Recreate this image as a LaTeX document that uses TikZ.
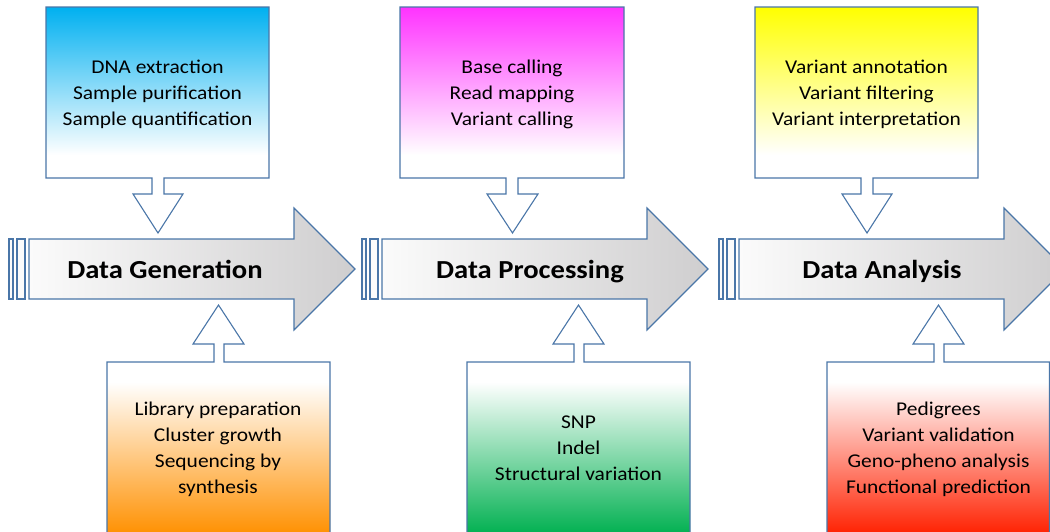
\documentclass[tikz,border=0pt]{standalone}
\usepackage{fontspec}
\setmainfont{Carlito}
\newfontfamily\bodyfont[FakeStretch=1.1]{Carlito}
\definecolor{olc}{HTML}{4A76A8}
\definecolor{cyanc}{HTML}{00B0F0}
\definecolor{magc}{HTML}{FF33FF}
\definecolor{yelc}{HTML}{FFFF00}
\definecolor{orac}{HTML}{FF9000}
\definecolor{grnc}{HTML}{00B050}
\definecolor{redc}{HTML}{FF2000}
\definecolor{arrR}{HTML}{CFCECF}
\definecolor{arrL}{HTML}{FBFBFB}
\begin{document}
\begin{tikzpicture}[x=1pt,y=-1pt,line join=miter]
\tikzset{
  outl/.style={draw=olc, line width=1.1pt},
  boxtext/.style={align=center, font=\bodyfont\fontsize{19.5}{26}\selectfont, text=black, inner sep=0pt},
  titletext/.style={anchor=base, font=\bodyfont\bfseries\fontsize{26}{30}\selectfont, text=black, inner sep=0pt},
  bigarrow/.style={outl, left color=arrL, right color=arrR},
  stripe/.style={outl, fill=arrL},
}
\useasboundingbox (0,0) rectangle (1050,531);

% ---------- top callouts ----------
\fill[white] (46,7) -- (269,7) -- (269,178) -- (164,178) -- (164,194) -- (183,194) -- (158,233) -- (133,194) -- (152,194) -- (152,178) -- (46,178) -- cycle;
\shade[top color=cyanc, bottom color=white] (46,7) rectangle (269,155);
\draw[outl] (46,7) -- (269,7) -- (269,178) -- (164,178) -- (164,194) -- (183,194) -- (158,233) -- (133,194) -- (152,194) -- (152,178) -- (46,178) -- cycle;
\node[boxtext] (t1) at (157.5,94) {DNA extraction\\Sample purification\\Sample quantification};

\fill[white] (400,7) -- (624,7) -- (624,178) -- (518,178) -- (518,194) -- (538,194) -- (512.5,233) -- (487,194) -- (506,194) -- (506,178) -- (400,178) -- cycle;
\shade[top color=magc, bottom color=white] (400,7) rectangle (624,155);
\draw[outl] (400,7) -- (624,7) -- (624,178) -- (518,178) -- (518,194) -- (538,194) -- (512.5,233) -- (487,194) -- (506,194) -- (506,178) -- (400,178) -- cycle;
\node[boxtext] (t2) at (512,94) {Base calling\\Read mapping\\Variant calling};

\fill[white] (755,7) -- (978,7) -- (978,178) -- (873,178) -- (873,194) -- (892,194) -- (867,233) -- (842,194) -- (861,194) -- (861,178) -- (755,178) -- cycle;
\shade[top color=yelc, bottom color=white] (755,7) rectangle (978,155);
\draw[outl] (755,7) -- (978,7) -- (978,178) -- (873,178) -- (873,194) -- (892,194) -- (867,233) -- (842,194) -- (861,194) -- (861,178) -- (755,178) -- cycle;
\node[boxtext] (t3) at (866.5,94) {Variant annotation\\Variant filtering\\Variant interpretation};

% ---------- bottom callouts ----------
\fill[white] (107,545) -- (107,362) -- (214,362) -- (214,344) -- (193,344) -- (218.5,305) -- (244,344) -- (224,344) -- (224,362) -- (330,362) -- (330,545) -- cycle;
\shade[top color=white, bottom color=orac] (107,382) rectangle (330,535);
\draw[outl] (107,545) -- (107,362) -- (214,362) -- (214,344) -- (193,344) -- (218.5,305) -- (244,344) -- (224,344) -- (224,362) -- (330,362) -- (330,545) -- cycle;
\node[boxtext] (b1) at (218,449) {Library preparation\\Cluster growth\\Sequencing by\\synthesis};

\fill[white] (467,545) -- (467,362) -- (574,362) -- (574,344) -- (553,344) -- (578.5,305) -- (604,344) -- (584,344) -- (584,362) -- (690,362) -- (690,545) -- cycle;
\shade[top color=white, bottom color=grnc] (467,382) rectangle (690,535);
\draw[outl] (467,545) -- (467,362) -- (574,362) -- (574,344) -- (553,344) -- (578.5,305) -- (604,344) -- (584,344) -- (584,362) -- (690,362) -- (690,545) -- cycle;
\node[boxtext] (b2) at (578.5,448) {SNP\\Indel\\Structural variation};

\fill[white] (827,545) -- (827,362) -- (934,362) -- (934,344) -- (913,344) -- (938.5,305) -- (964,344) -- (944,344) -- (944,362) -- (1049.5,362) -- (1049.5,545) -- cycle;
\shade[top color=white, bottom color=redc] (827,382) rectangle (1049.5,535);
\draw[outl] (827,545) -- (827,362) -- (934,362) -- (934,344) -- (913,344) -- (938.5,305) -- (964,344) -- (944,344) -- (944,362) -- (1049.5,362) -- (1049.5,545) -- cycle;
\node[boxtext] (b3) at (938.5,449) {Pedigrees\\Variant validation\\Geno-pheno analysis\\Functional prediction};

% ---------- big striped arrows ----------
\foreach \x in {9,362,719}{
  \begin{scope}[xshift=\x pt]
    \draw[stripe] (0,239) rectangle (4,299);
    \draw[stripe] (8,239) rectangle (16,299);
    \shadedraw[bigarrow] (20,239) -- (285,239) -- (285,208) -- (346,269) -- (285,330) -- (285,299) -- (20,299) -- cycle;
  \end{scope}
}
\node[titletext] (s1) at (165,278) {Data Generation};
\node[titletext] (s2) at (530,278) {Data Processing};
\node[titletext] (s3) at (882,278) {Data Analysis};
\end{tikzpicture}
\end{document}
